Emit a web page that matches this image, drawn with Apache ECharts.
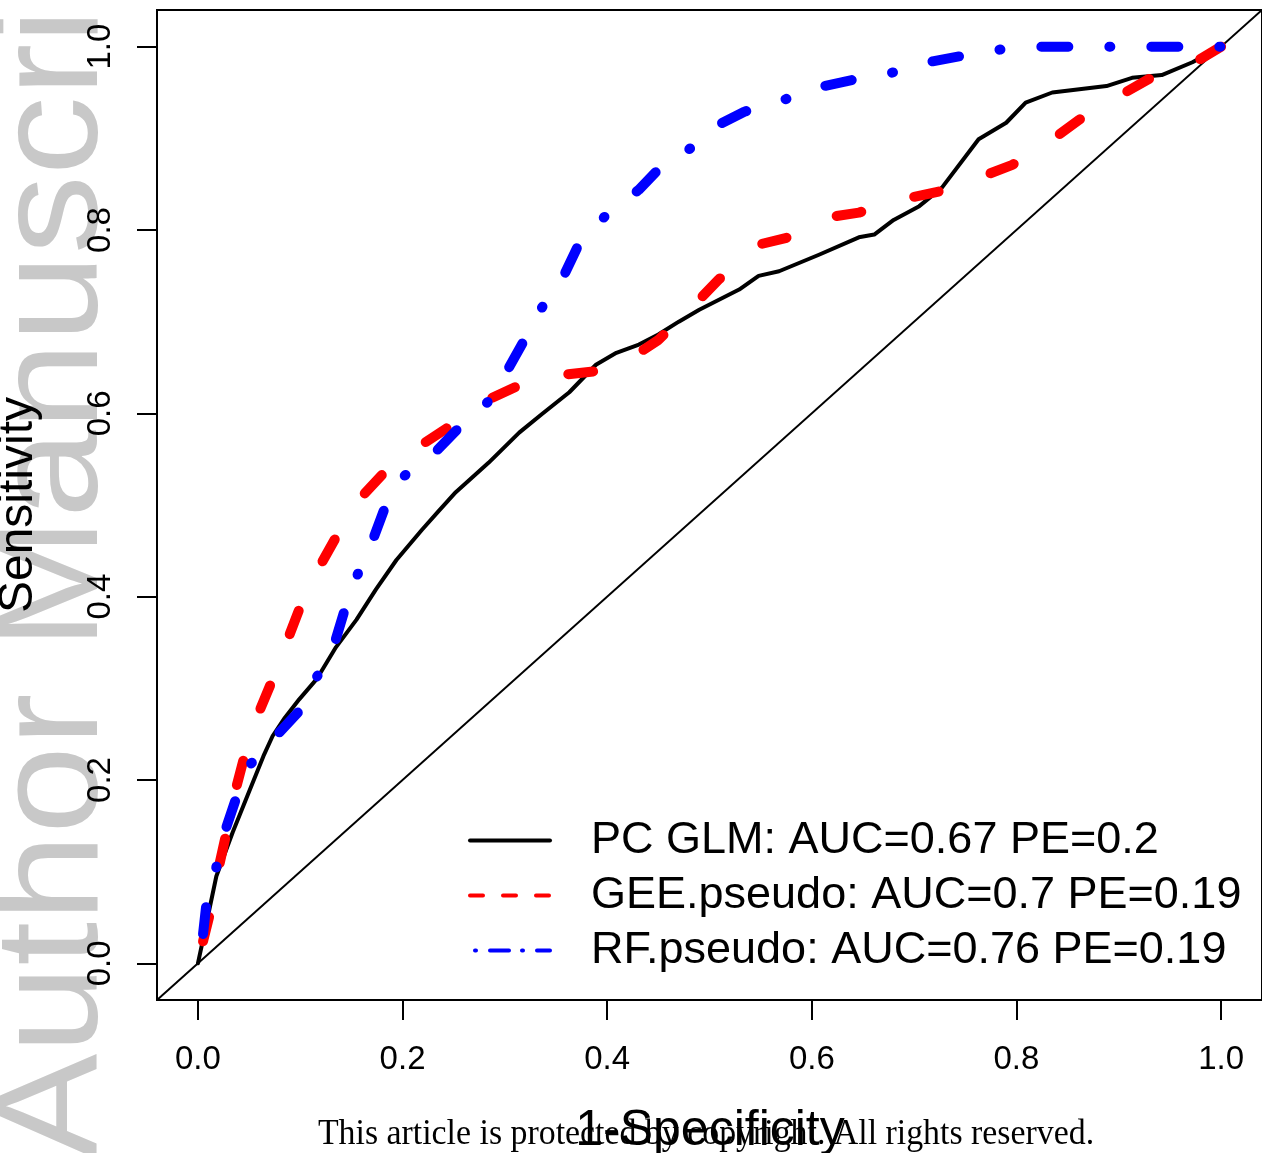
<!DOCTYPE html>
<html>
<head>
<meta charset="utf-8">
<script src="https://cdn.jsdelivr.net/npm/echarts@6.0.0/dist/echarts.min.js"></script>
<style>
html,body{margin:0;padding:0;background:#fff;}
#chart{width:1262px;height:1153px;}
</style>
</head>
<body>
<div id="chart"></div>
<script>
// ---- data ----
const xTicks = [0, 0.2, 0.4, 0.6, 0.8, 1.0];
const yTicks = [0, 0.2, 0.4, 0.6, 0.8, 1.0];

const seriesNames = [
  'PC GLM: AUC=0.67 PE=0.2',
  'GEE.pseudo: AUC=0.7 PE=0.19',
  'RF.pseudo: AUC=0.76 PE=0.19'
];

const pcX = [0,0.005,0.018,0.034,0.047,0.064,0.073,0.085,0.099,0.116,0.135,0.155,0.174,0.194,0.219,0.235,0.252,0.284,0.314,0.336,0.363,0.389,0.409,0.431,0.45,0.47,0.49,0.529,0.548,0.568,0.607,0.646,0.661,0.68,0.705,0.727,0.763,0.790,0.809,0.835,0.888,0.913,0.942,0.972,1.0];
const pcY = [0,0.026,0.095,0.143,0.179,0.226,0.248,0.268,0.288,0.31,0.345,0.375,0.408,0.44,0.473,0.493,0.514,0.546,0.579,0.599,0.623,0.653,0.666,0.675,0.686,0.70,0.713,0.735,0.75,0.755,0.773,0.792,0.795,0.811,0.826,0.846,0.899,0.917,0.939,0.95,0.957,0.966,0.969,0.983,1.0];

const geeX = [0.005,0.011,0.02,0.027,0.037,0.045,0.06,0.075,0.089,0.099,0.12,0.135,0.16,0.18,0.219,0.245,0.284,0.311,0.356,0.389,0.431,0.45,0.49,0.509,0.548,0.577,0.617,0.646,0.695,0.724,0.770,0.796,0.839,0.861,0.903,0.930,0.976,1.0];
const geeY = [0.024,0.051,0.103,0.138,0.19,0.224,0.275,0.315,0.357,0.386,0.435,0.465,0.509,0.533,0.566,0.585,0.615,0.629,0.642,0.646,0.666,0.68,0.724,0.746,0.784,0.792,0.814,0.819,0.835,0.842,0.86,0.871,0.902,0.920,0.948,0.965,0.984,1.0];

const rfX = [0.005,0.008,0.018,0.027,0.037,0.052,0.078,0.098,0.116,0.133,0.143,0.156,0.172,0.182,0.202,0.234,0.253,0.283,0.304,0.319,0.336,0.358,0.372,0.397,0.431,0.45,0.48,0.509,0.534,0.578,0.612,0.641,0.68,0.718,0.747,0.785,0.822,1.0];
const rfY = [0.032,0.062,0.105,0.146,0.179,0.218,0.25,0.274,0.312,0.347,0.384,0.424,0.465,0.495,0.532,0.56,0.582,0.612,0.65,0.68,0.715,0.751,0.784,0.814,0.844,0.866,0.888,0.915,0.929,0.944,0.957,0.964,0.972,0.984,0.99,0.997,1.0,1.0];

const diagX = [-0.04, 1.04];
const diagY = [-0.04, 1.04];

const zip = (a, b) => a.map((v, i) => [v, b[i]]);

const FONT = 'Liberation Sans, Arial, Helvetica, sans-serif';

const chart = echarts.init(document.getElementById('chart'), null, {renderer: 'canvas'});

const option = {
  animation: false,
  backgroundColor: '#ffffff',
  grid: {
    left: 157, top: 10, right: 0, bottom: 153,
    show: true, borderColor: '#000', borderWidth: 2, backgroundColor: 'transparent'
  },
  xAxis: {
    type: 'value', min: -0.04, max: 1.04,
    axisLine: {show: false, onZero: false},
    splitLine: {show: false},
    axisTick: {show: true, customValues: xTicks, length: 20, inside: false, lineStyle: {color: '#000', width: 2}},
    axisLabel: {show: true, customValues: xTicks, margin: 43, fontSize: 33, fontFamily: FONT, color: '#000',
      formatter: v => Number(v).toFixed(1)}
  },
  yAxis: {
    type: 'value', min: -0.04, max: 1.04,
    axisLine: {show: false, onZero: false},
    splitLine: {show: false},
    axisTick: {show: true, customValues: yTicks, length: 20, inside: false, lineStyle: {color: '#000', width: 2}},
    axisLabel: {show: true, customValues: yTicks, margin: 40, rotate: 90, fontSize: 33, fontFamily: FONT, color: '#000',
      formatter: v => Number(v).toFixed(1)}
  },
  legend: {
    orient: 'vertical', left: 468, top: 818, padding: 0,
    itemWidth: 80, itemHeight: 14, itemGap: 10,
    selectedMode: false,
    itemStyle: {opacity: 0},
    textStyle: {fontSize: 45, lineHeight: 44, fontFamily: FONT, color: '#000', padding: [0, 0, 0, 36]},
    data: [
      {name: seriesNames[0], lineStyle: {width: 4, type: 'solid'}},
      {name: seriesNames[1], lineStyle: {width: 4, type: [13, 20], cap: 'round'}},
      {name: seriesNames[2], lineStyle: {width: 4, type: [1, 14, 19, 13], cap: 'round'}}
    ]
  },
  graphic: [
    {
      type: 'text', z: -10, silent: true,
      x: 56, y: 1159, rotation: Math.PI / 2, scaleY: 0.93,
      style: {text: 'Author Manuscript', fontSize: 158, fontFamily: FONT, fill: '#c8c8c8', align: 'left', verticalAlign: 'middle'}
    },
    {
      type: 'text', z: 10, silent: true,
      x: 19, y: 505, rotation: Math.PI / 2,
      style: {text: 'Sensitivity', fontSize: 48, fontFamily: FONT, fill: '#000', align: 'center', verticalAlign: 'middle'}
    },
    {
      type: 'text', z: 10, silent: true,
      x: 710, y: 1131,
      style: {text: '1-Specificity', fontSize: 50, fontFamily: FONT, fill: '#000', align: 'center', verticalAlign: 'middle'}
    },
    {
      type: 'text', z: 11, silent: true,
      x: 706, y: 1135, scaleX: 0.94,
      style: {text: 'This article is protected by copyright. All rights reserved.', fontSize: 36, fontFamily: 'Liberation Serif, Times New Roman, serif', fill: '#000', align: 'center', verticalAlign: 'middle'}
    }
  ],
  series: [
    {
      type: 'line', name: 'diagonal', data: zip(diagX, diagY), symbol: 'none', silent: true, z: 1,
      lineStyle: {color: '#000', width: 2}
    },
    {
      type: 'line', name: seriesNames[0], data: zip(pcX, pcY), symbol: 'none', z: 2,
      lineStyle: {color: '#000', width: 4, join: 'round', cap: 'round'}, itemStyle: {color: '#000'}
    },
    {
      type: 'line', name: seriesNames[1], data: zip(geeX, geeY), symbol: 'none', z: 3,
      lineStyle: {color: '#ff0000', width: 10, type: [25, 55], cap: 'round', join: 'round'}, itemStyle: {color: '#ff0000'}
    },
    {
      type: 'line', name: seriesNames[2], data: zip(rfX, rfY), symbol: 'none', z: 4,
      lineStyle: {color: '#0000ff', width: 10, type: [1, 41, 27, 41], dashOffset: 42, cap: 'round', join: 'round'}, itemStyle: {color: '#0000ff'}
    }
  ]
};

chart.setOption(option);
</script>
</body>
</html>
